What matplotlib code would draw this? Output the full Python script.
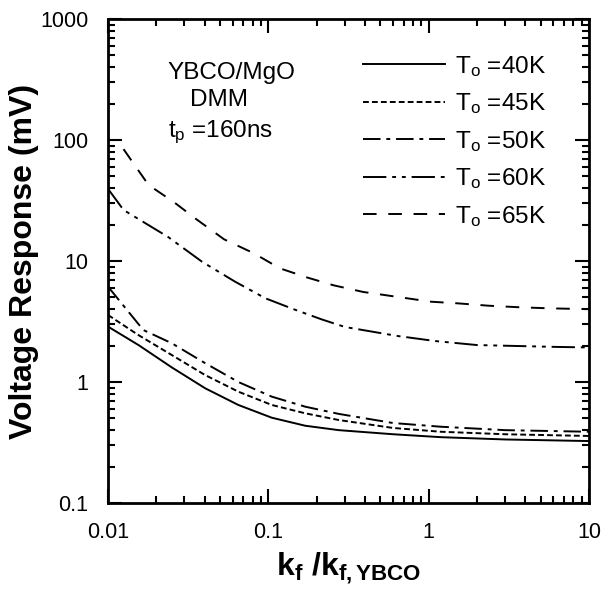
import numpy as np
import matplotlib
matplotlib.use('Agg')
import matplotlib.pyplot as plt

plt.rcParams['font.family'] = ['Liberation Sans', 'DejaVu Sans']
plt.rcParams['mathtext.fontset'] = 'custom'
plt.rcParams['mathtext.rm'] = 'Liberation Sans'
plt.rcParams['mathtext.it'] = 'Liberation Sans'
plt.rcParams['mathtext.bf'] = 'Liberation Sans:bold'

# k_f / k_f,YBCO
k = [0.01, 0.0155, 0.025, 0.0404, 0.065, 0.105, 0.17, 0.275, 0.6, 1.19, 3.0, 10.0]
v40 = [2.87, 2.02, 1.32, 0.887, 0.646, 0.507, 0.435, 0.40, 0.37, 0.35, 0.335, 0.325]
v45 = [3.58, 2.44, 1.67, 1.14, 0.832, 0.646, 0.551, 0.485, 0.417, 0.388, 0.37, 0.358]

k50 = [0.01, 0.0166, 0.025, 0.0404, 0.065, 0.105, 0.17, 0.275, 0.6, 1.19, 3.0, 10.0]
v50 = [6.14, 2.69, 2.09, 1.43, 1.0, 0.757, 0.625, 0.545, 0.458, 0.427, 0.40, 0.388]

k60 = [0.01, 0.0125, 0.0237, 0.0386, 0.062, 0.0958, 0.148, 0.214, 0.30, 0.64, 1.1, 2.0, 6.2, 10.0]
v60 = [39.5, 26.4, 15.8, 9.86, 6.75, 4.92, 3.94, 3.3, 2.85, 2.4, 2.18, 2.02, 1.95, 1.93]

k65 = [0.0125, 0.0137, 0.0179, 0.0259, 0.0358, 0.053, 0.081, 0.118, 0.175, 0.255, 0.39,
       1.03, 1.51, 2.37, 3.76, 5.8, 10.0]
v65 = [84, 70.6, 42.5, 30.5, 22.0, 15.1, 11.6, 8.7, 7.3, 6.3, 5.55,
       4.61, 4.47, 4.27, 4.14, 4.06, 4.0]

labels = ['T$_{\\mathregular{o}}$ =40K', 'T$_{\\mathregular{o}}$ =45K', 'T$_{\\mathregular{o}}$ =50K',
          'T$_{\\mathregular{o}}$ =60K', 'T$_{\\mathregular{o}}$ =65K']

fig = plt.figure(figsize=(6.15, 5.94), dpi=100)
ax = fig.add_axes([108/615, 1 - 503/594, 481/615, 484/594])

lw = 1.4
ax.plot(k, v40, 'k-', lw=lw, label=labels[0])
ax.plot(k, v45, 'k', lw=lw, dashes=(3, 1.6), label=labels[1])
ax.plot(k50, v50, 'k', lw=lw, dashes=(9, 3, 2, 3), label=labels[2])
ax.plot(k60, v60, 'k', lw=lw, dashes=(12, 3, 2, 3, 2, 3), label=labels[3])
ax.plot(k65, v65, 'k', lw=lw, dashes=(7, 6), label=labels[4])

ax.set_xscale('log')
ax.set_yscale('log')
ax.set_xlim(0.01, 10)
ax.set_ylim(0.1, 1000)
ax.set_xticks([0.01, 0.1, 1, 10])
ax.set_xticklabels(['0.01', '0.1', '1', '10'])
ax.set_yticks([0.1, 1, 10, 100, 1000])
ax.set_yticklabels(['0.1', '1', '10', '100', '1000'])

ax.tick_params(which='both', direction='in', top=True, right=True, width=1.5, labelsize=15.5)
ax.tick_params(which='major', length=10, pad=14)
ax.tick_params(which='minor', length=5)
for s in ax.spines.values():
    s.set_linewidth(2)

ax.set_xlabel('k$_{\\mathbf{f}}$ /k$_{\\mathbf{f,YBCO}}$', fontsize=23, fontweight='bold', labelpad=5)
ax.set_ylabel('Voltage Response (mV)', fontsize=23, fontweight='bold', labelpad=1)

ax.text(0.123, 0.888, 'YBCO/MgO', transform=ax.transAxes, fontsize=17.5, va='center')
ax.text(0.17, 0.833, 'DMM', transform=ax.transAxes, fontsize=17.5, va='center')
ax.text(0.125, 0.756, 't$_{\\mathregular{p}}$ =160ns', transform=ax.transAxes, fontsize=17.5,
        va='baseline')

ax.legend(loc='upper left', bbox_to_anchor=(0.53, 0.928), frameon=False, fontsize=17.5,
          handlelength=3.37, handletextpad=0.4, labelspacing=0.52, borderpad=0,
          borderaxespad=0)

fig.savefig('out.png', dpi=100)
